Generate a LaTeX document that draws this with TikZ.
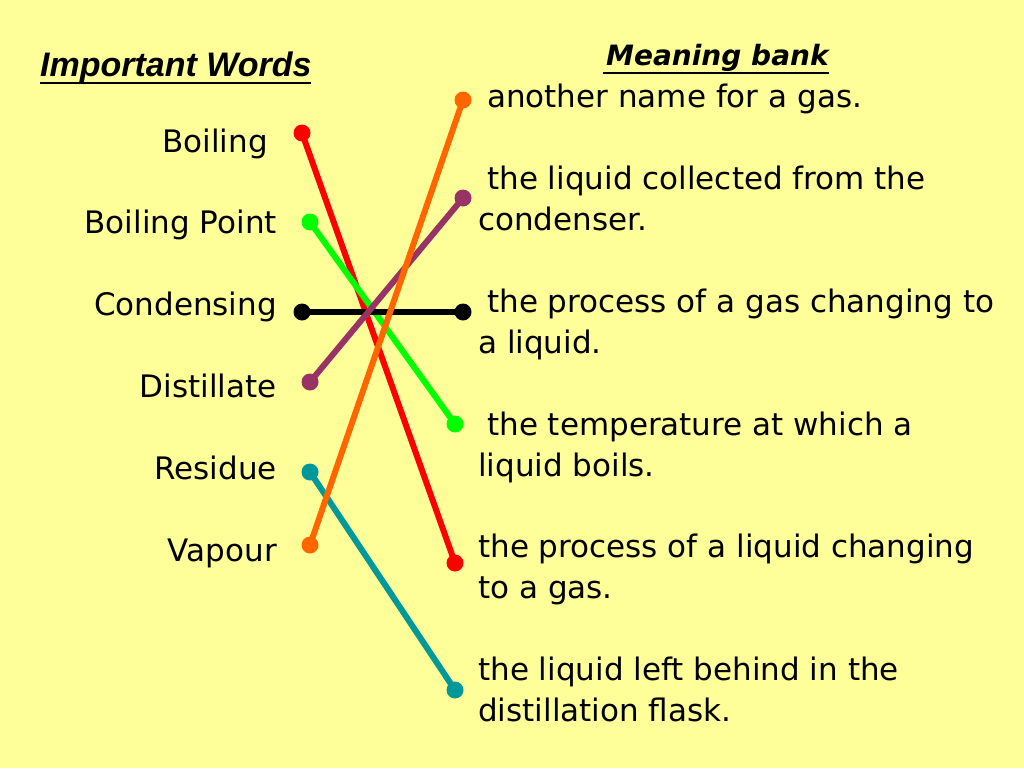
\documentclass[tikz,border=0pt]{standalone}
\usepackage{fontspec}
\setmainfont{DejaVu Sans}
\newfontfamily\headfont{Liberation Sans}
\usetikzlibrary{positioning}

\definecolor{bgyellow}{RGB}{255,255,153}
\definecolor{dotred}{RGB}{255,0,0}
\definecolor{dotgreen}{RGB}{0,255,0}
\definecolor{dotpurple}{RGB}{153,51,102}
\definecolor{dotteal}{RGB}{0,153,153}
\definecolor{dotorange}{RGB}{255,102,0}

\begin{document}
\begin{tikzpicture}[
    x=1pt, y=-1pt,
     word/.style = {anchor=base east, inner sep=0pt,
                    font=\fontsize{31}{41}\selectfont},
  meaning/.style = {anchor=base west, inner sep=0pt, align=left,
                    font=\fontsize{31}{41}\selectfont},
  heading/.style = {inner sep=0pt, anchor=base west},
      dot/.style = {circle, fill=#1, inner sep=0pt, minimum size=17pt},
     link/.style = {line width=6pt, draw=#1}
                    ]
\fill[bgyellow] (0,0) rectangle (1024,768);
\useasboundingbox (0,0) rectangle (1024,768);
 % headings
\node (hwords) [heading, font=\headfont\fontsize{34}{38}\selectfont\bfseries\itshape]
      at (40,77) {Important Words};
\draw[line width=2pt] (40,83) -- (311,83);
\node (hbank)  [heading, font=\fontsize{28}{34}\selectfont\bfseries\itshape]
      at (606,66) {Meaning bank};
\draw[line width=2pt] (603,73) -- (829,73);
 % important words
\node (boil)   [word] at (268,152) {Boiling};
\node (bpoint) [word] at (277,233) {Boiling Point};
\node (cond)   [word] at (277,315) {Condensing};
\node (dist)   [word] at (277,397) {Distillate};
\node (res)    [word] at (277,479) {Residue};
\node (vap)    [word] at (277,561) {Vapour};
 % meanings (anchored on the baseline of the last line)
\node (mvap)  [meaning] at (478,107) {\hspace{9pt}another name for a gas.};
\node (mdist) [meaning] at (478,230) {\hspace{9pt}the liquid collected from the\\condenser.};
\node (mcond) [meaning] at (478,353) {\hspace{9pt}the process of a gas changing to\\a liquid.};
\node (mbp)   [meaning] at (478,476) {\hspace{9pt}the temperature at which a\\liquid boils.};
\node (mboil) [meaning] at (478,598) {the process of a liquid changing\\to a gas.};
\node (mres)  [meaning] at (478,721) {the liquid left behind in the\\distillation flask.};
 % dots
\node (lboil)   [dot=dotred]    at (302,133) {};
\node (lbpoint) [dot=dotgreen]  at (310,222) {};
\node (lcond)   [dot=black]     at (302,312) {};
\node (ldist)   [dot=dotpurple] at (310,382) {};
\node (lres)    [dot=dotteal]   at (310,472) {};
\node (lvap)    [dot=dotorange] at (310,545) {};
\node (rvap)    [dot=dotorange] at (463,100) {};
\node (rdist)   [dot=dotpurple] at (463,198) {};
\node (rcond)   [dot=black]     at (463,312) {};
\node (rbpoint) [dot=dotgreen]  at (455,424) {};
\node (rboil)   [dot=dotred]    at (455,563) {};
\node (rres)    [dot=dotteal]   at (455,690) {};
 % links
\draw[link=dotred]    (lboil.center)   -- (rboil.center);
\draw[link=dotgreen]  (lbpoint.center) -- (rbpoint.center);
\draw[link=black]     (lcond.center)   -- (rcond.center);
\draw[link=dotpurple] (ldist.center)   -- (rdist.center);
\draw[link=dotteal]   (lres.center)    -- (rres.center);
\draw[link=dotorange] (lvap.center)    -- (rvap.center);
\end{tikzpicture}
\end{document}
